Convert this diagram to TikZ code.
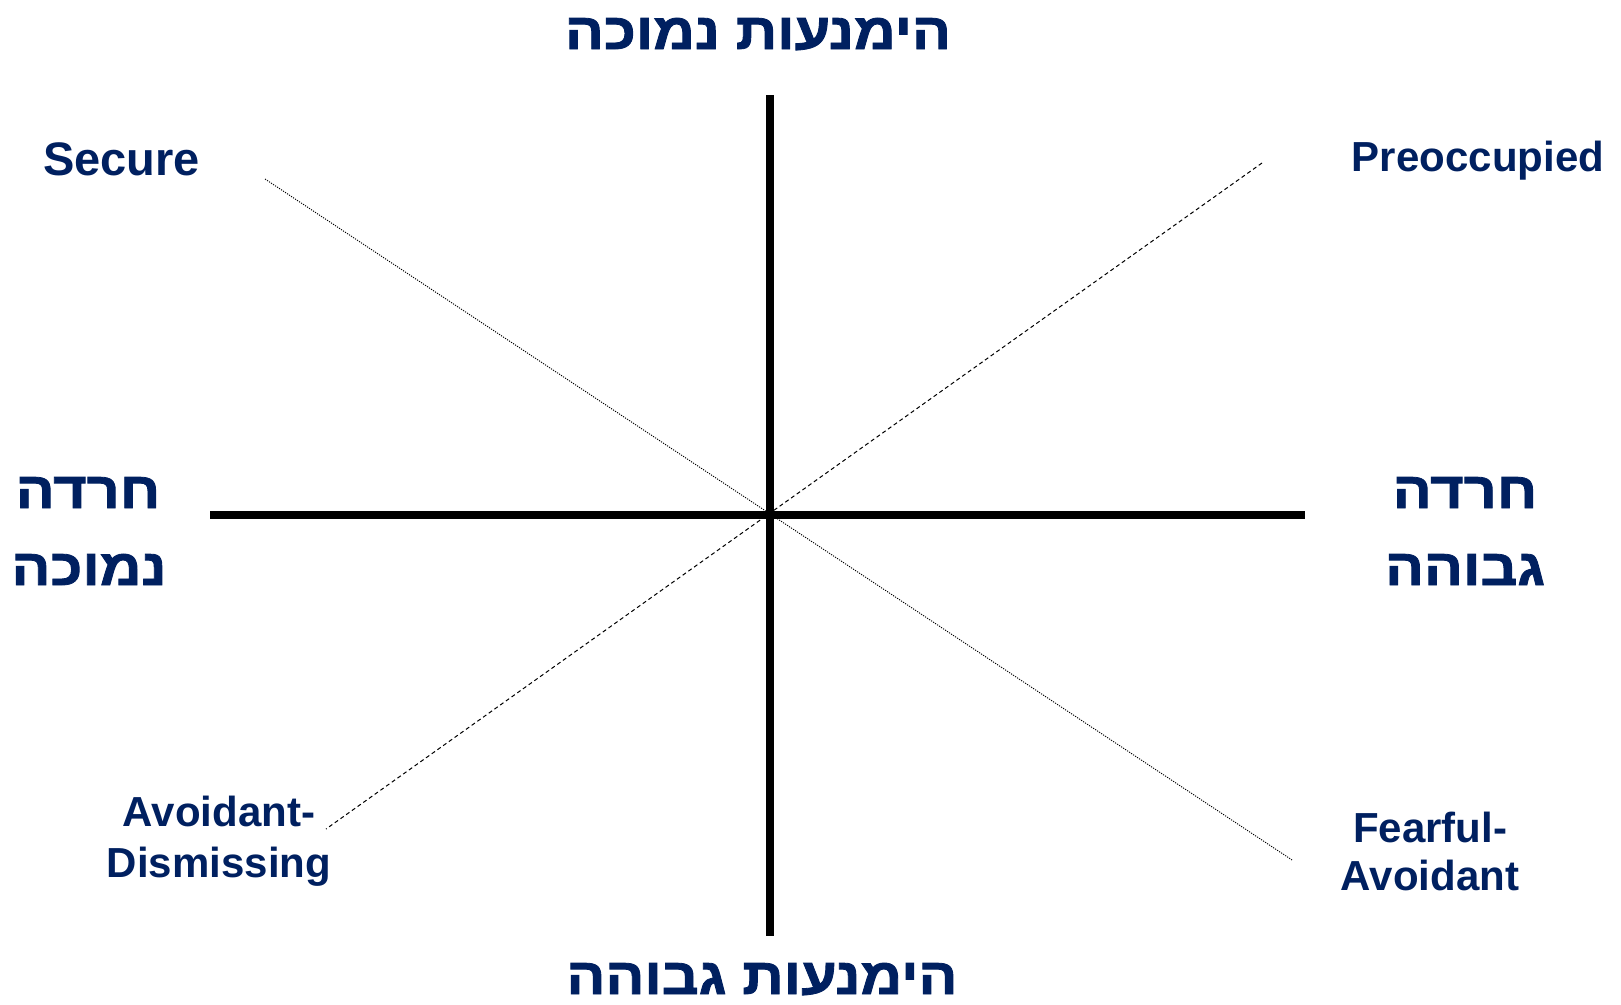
\documentclass[tikz,border=0pt]{standalone}
\usepackage{fontspec}
\usepackage{graphicx}
\setmainfont{Liberation Sans}
\newfontfamily\hebfont[Script=Hebrew,FakeBold=1.6]{Liberation Sans Bold}
\TeXXeTstate=1
\definecolor{navy}{RGB}{0,32,96}
\begin{document}
\begin{tikzpicture}[x=1pt,y=-1pt,
  axisline/.style={line width=8.5pt},
  dotline/.style={line width=0.9pt, dash pattern=on 1.2pt off 1.2pt},
  dashline/.style={line width=1pt, dash pattern=on 4pt off 3pt},
  lbl/.style={text=navy, font=\bfseries\fontsize{42}{50}\selectfont, anchor=base, inner sep=0pt},
  heb/.style={text=navy, font=\hebfont\fontsize{51}{60}\selectfont, anchor=base, inner sep=0pt}]
\useasboundingbox (0,0) rectangle (1621,1004);
\fill[white] (0,0) rectangle (1621,1004);
% axes
\coordinate (top) at (770,95);
\coordinate (bottom) at (770,936);
\coordinate (left) at (210,515);
\coordinate (right) at (1305,515);
\coordinate (secEnd) at (265,179);
\coordinate (fearEnd) at (1292,860);
\coordinate (preEnd) at (1262,163);
\coordinate (avoEnd) at (326,829);
\draw[dotline] (secEnd) -- (fearEnd);
\draw[dashline] (preEnd) -- (avoEnd);
\draw[axisline] (top) -- (bottom);
\draw[axisline] (left) -- (right);
% Hebrew labels
\newcommand{\hx}[1]{\scalebox{1.13}[1]{\beginR #1\endR}}
\node[heb] (tlab) at (758,49) {\hx{הימנעות נמוכה}};
\node[heb] (blab) at (762,994) {\hx{הימנעות גבוהה}};
\node[heb] (l1) at (88,508) {\hx{חרדה}};
\node[heb] (l2) at (89,585) {\hx{נמוכה}};
\node[heb] (r1) at (1465,508) {\hx{חרדה}};
\node[heb] (r2) at (1465,585) {\hx{גבוהה}};
% English labels
\node[lbl, font=\bfseries\fontsize{47}{55}\selectfont] (secure) at (121.5,175) {Secure};
\node[lbl] (preocc) at (1478,171) {Preoccupied};
\node[lbl] (avo1) at (219,826) {Avoidant-};
\node[lbl] (avo2) at (219,877) {Dismissing};
\node[lbl] (fear1) at (1430,842) {Fearful-};
\node[lbl] (fear2) at (1430,890) {Avoidant};
\end{tikzpicture}
\end{document}
